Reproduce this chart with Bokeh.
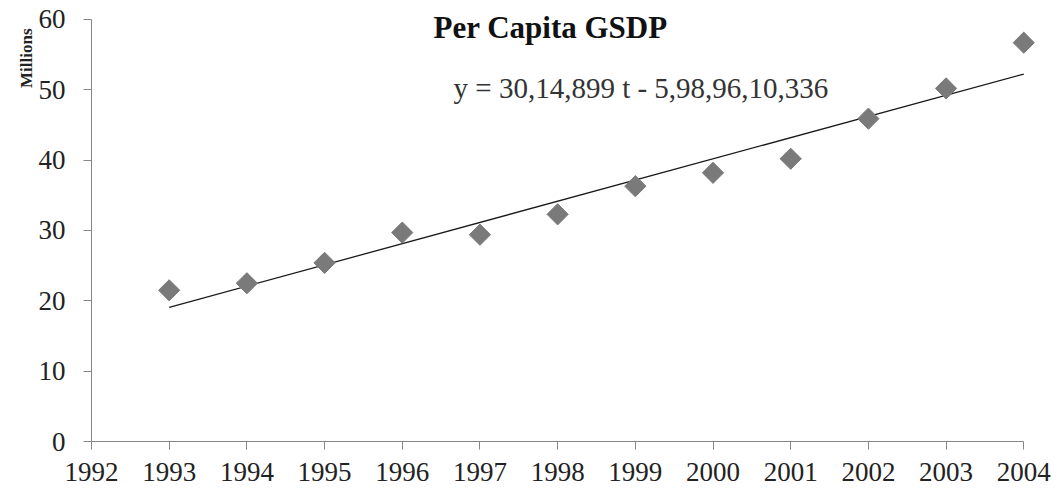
import math
from bokeh.plotting import figure
from bokeh.models import Range1d, Label, FixedTicker, Title
from bokeh.embed import file_html
from bokeh.resources import INLINE

years = [1993, 1994, 1995, 1996, 1997, 1998, 1999, 2000, 2001, 2002, 2003, 2004]
gsdp = [21.5, 22.5, 25.4, 29.7, 29.4, 32.3, 36.3, 38.2, 40.2, 45.9, 50.2, 56.7]
x_ticks = list(range(1992, 2005))
y_ticks = [0, 10, 20, 30, 40, 50, 60]
trend_slope = 3.014899
trend_intercept = -5989.610336
title_text = "Per Capita GSDP"
equation_text = "y = 30,14,899 t - 5,98,96,10,336"
y_label_text = "Millions"

FONT = "Liberation Serif"

p = figure(width=1059, height=491, output_backend="svg", toolbar_location=None,
           x_range=Range1d(1992, 2004.46), y_range=Range1d(0, 62.7),
           min_border_left=91, min_border_right=0, min_border_top=0, min_border_bottom=50)
p.outline_line_color = None
p.xgrid.visible = False
p.ygrid.visible = False
p.background_fill_color = "white"
p.border_fill_color = "white"

for ax in (p.xaxis[0], p.yaxis[0]):
    ax.axis_line_color = "#868686"
    ax.major_tick_line_color = "#868686"
    ax.minor_tick_line_color = None
    ax.major_tick_in = 0
    ax.major_tick_out = 8
    ax.major_label_text_font = FONT
    ax.major_label_text_font_size = "27px"
    ax.major_label_text_color = "#222222"
    ax.major_label_text_line_height = 1.0

p.xaxis[0].ticker = FixedTicker(ticks=x_ticks)
p.xaxis[0].bounds = (1992, 2004)
p.xaxis[0].major_label_standoff = 13
p.yaxis[0].ticker = FixedTicker(ticks=y_ticks)
p.yaxis[0].bounds = (0, 60)
p.yaxis[0].major_label_standoff = 18

# trend line from the fitted equation
tx = [years[0], years[-1]]
ty = [trend_slope * t + trend_intercept for t in tx]
p.line(tx, ty, line_color="#1a1a1a", line_width=1.3)

p.scatter(years, gsdp, marker="square", size=15, angle=math.pi / 4,
          fill_color="#7a7a7a", line_color="#7a7a7a")

p.add_layout(Label(x=1997.91, y=58.8, text=title_text, text_font=FONT,
                   text_font_style="bold", text_font_size="31px", text_align="center",
                   text_baseline="alphabetic", text_color="#111111"))
p.add_layout(Label(x=1996.66, y=50.3, text=equation_text, text_font=FONT,
                   text_font_size="29px", text_align="left",
                   text_baseline="alphabetic", text_color="#333333"))

ylab = Title(text=y_label_text, align="right", offset=28, standoff=0,
             text_font=FONT, text_font_style="bold", text_font_size="17px",
             text_color="#222222")
p.add_layout(ylab, "left")

open("out.html", "w").write(file_html(p, INLINE))
